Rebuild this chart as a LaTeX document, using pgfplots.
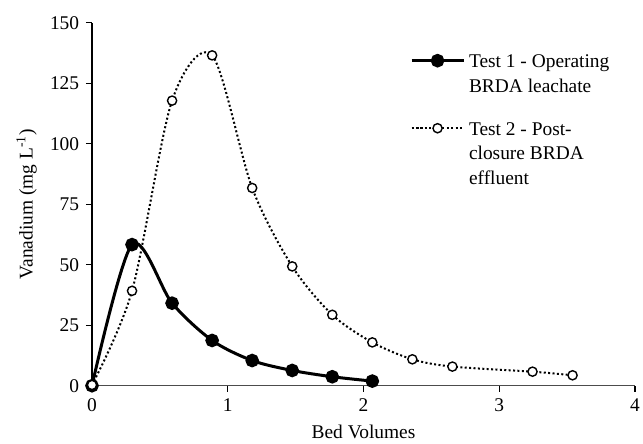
\documentclass[border=0pt]{standalone}
\usepackage{fontspec}
\setmainfont{Liberation Serif}
\usepackage{pgfplots}
\pgfplotsset{compat=1.18}
\begin{document}
\fontsize{9.7bp}{12.2bp}\selectfont
\begin{tikzpicture}
\begin{axis}[
  at={(0,0)}, anchor=south west,
  scale only axis,
  width=271.5bp, height=181.5bp,
  xmin=0, xmax=4, ymin=0, ymax=150,
  xtick={0,1,2,3,4}, ytick={0,25,50,75,100,125,150},
  axis lines=left,
  axis line style={-, line width=0.65bp},
  x axis line style={draw=black!70},
  tick style={black, line width=0.6bp},
  tick align=outside,
  major tick length=3bp,
  /pgf/number format/assume math mode=true,
  tick label style={font=\fontsize{9.7bp}{12bp}\selectfont},
  label style={font=\fontsize{9.7bp}{12bp}\selectfont},
  xlabel={Bed Volumes},
  ylabel={Vanadium (mg L\textsuperscript{-1})},
  clip=false,
  legend style={at={(0.585,0.935)}, anchor=north west, draw=none, fill=none,
    font=\fontsize{9.7bp}{12.2bp}\selectfont, cells={anchor=west}, row sep=19.8bp,
    inner sep=0pt},
  legend image code/.code={\draw[mark repeat=2,mark phase=2,#1] plot coordinates {(0bp,0bp)(13bp,0bp)(26bp,0bp)};},
]
\addplot[black, line width=1.5bp, smooth, mark=*, mark size=2.65bp, mark options={solid, fill=black}]
coordinates {(0,0) (0.295,58.3) (0.59,34.1) (0.885,18.7) (1.18,10.4) (1.475,6.3) (1.77,3.7) (2.065,1.9)};
\addlegendentry{\begin{tabular}[t]{@{}l@{}}Test 1 - Operating\\BRDA leachate\end{tabular}}
\addplot[black, line width=1bp, dash pattern=on 1bp off 1.2bp, smooth, mark=*, mark size=2.3bp, mark options={solid, draw=black, fill=white, line width=0.7bp}]
coordinates {(0,0.3) (0.295,39.2) (0.59,117.8) (0.885,136.5) (1.18,81.7) (1.475,49.3) (1.77,29.3) (2.065,17.9) (2.36,10.9) (2.655,7.9) (3.245,5.8) (3.54,4.3)};
\addlegendentry{\begin{tabular}[t]{@{}l@{}}Test 2 - Post-\\closure BRDA\\effluent\end{tabular}}
\end{axis}
\pgfresetboundingbox
\useasboundingbox (-46bp,-29.15bp) rectangle (275.5bp,192.85bp);
\end{tikzpicture}
\end{document}
